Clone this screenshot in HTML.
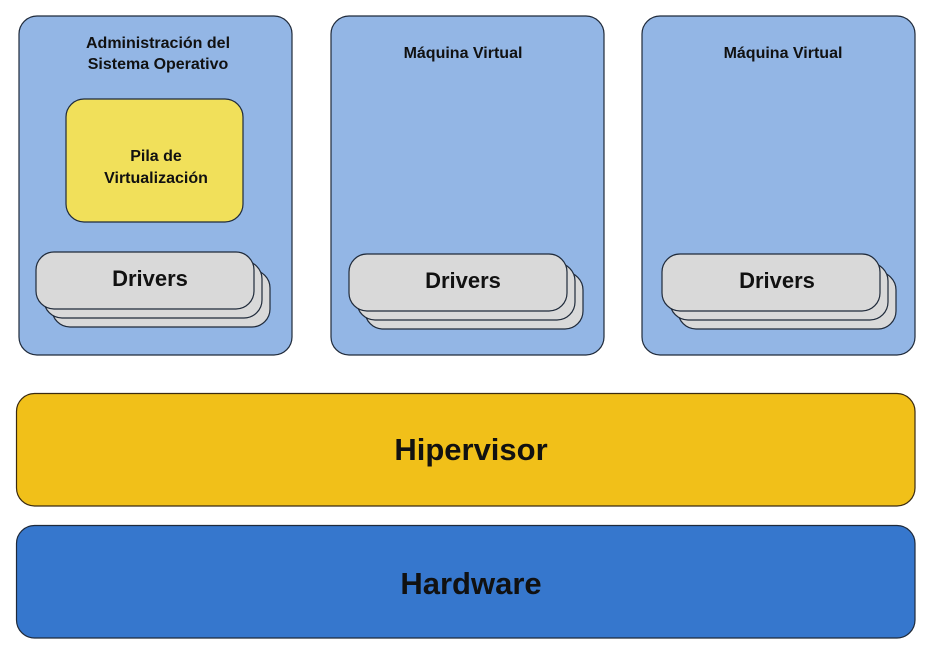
<!DOCTYPE html>
<html><head><meta charset="utf-8"><style>
html,body{margin:0;padding:0;background:#fff;}
svg{display:block;}
text{font-family:"Liberation Sans",Arial,sans-serif;font-weight:bold;fill:#111;text-anchor:middle;}
</style></head><body>
<svg width="932" height="652" viewBox="0 0 932 652" xmlns="http://www.w3.org/2000/svg">
<g stroke="#1f2a3a" stroke-width="1.2">
<rect x="19" y="16" width="273" height="339" rx="18" fill="#93b6e5"/>
<rect x="331" y="16" width="273" height="339" rx="18" fill="#93b6e5"/>
<rect x="642" y="16" width="273" height="339" rx="18" fill="#93b6e5"/>
<rect x="66" y="99" width="177" height="123" rx="18" fill="#f1e05a"/>

<rect x="52" y="270" width="218" height="57" rx="18" fill="#d9d9d9"/>
<rect x="44" y="261" width="218" height="57" rx="18" fill="#d9d9d9"/>
<rect x="36" y="252" width="218" height="57" rx="18" fill="#d9d9d9"/>

<rect x="365" y="272" width="218" height="57" rx="18" fill="#d9d9d9"/>
<rect x="357" y="263" width="218" height="57" rx="18" fill="#d9d9d9"/>
<rect x="349" y="254" width="218" height="57" rx="18" fill="#d9d9d9"/>

<rect x="678" y="272" width="218" height="57" rx="18" fill="#d9d9d9"/>
<rect x="670" y="263" width="218" height="57" rx="18" fill="#d9d9d9"/>
<rect x="662" y="254" width="218" height="57" rx="18" fill="#d9d9d9"/>

<rect x="16.5" y="393.5" width="898.5" height="112.5" rx="18" fill="#f1c019" stroke="#3a2a10"/>
<rect x="16.5" y="525.5" width="898.5" height="112.5" rx="18" fill="#3677cd"/>
</g>
<text x="158" y="48" font-size="16">Administración del</text>
<text x="158" y="69" font-size="16">Sistema Operativo</text>
<text x="463" y="58" font-size="16">Máquina Virtual</text>
<text x="783" y="58" font-size="16">Máquina Virtual</text>
<text x="156" y="161" font-size="16">Pila de</text>
<text x="156" y="183" font-size="16">Virtualización</text>
<text x="150" y="286" font-size="22">Drivers</text>
<text x="463" y="288" font-size="22">Drivers</text>
<text x="777" y="288" font-size="22">Drivers</text>
<text x="471" y="460" font-size="31">Hipervisor</text>
<text x="471" y="594" font-size="31">Hardware</text>
</svg>
</body></html>
